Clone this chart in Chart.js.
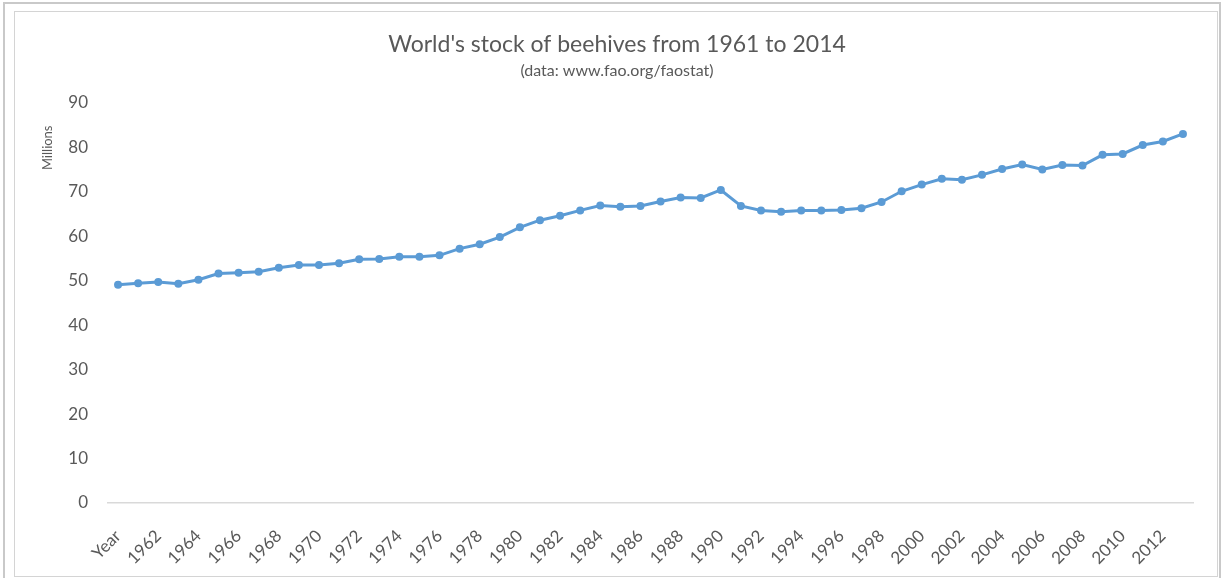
<!DOCTYPE html>
<html>
<head>
<meta charset="utf-8">
<script src="https://cdn.jsdelivr.net/npm/chart.js@4/dist/chart.umd.min.js"></script>
<style>
  html, body { margin: 0; padding: 0; background: #fff; }
  #wrap { position: relative; width: 1227px; height: 578px; overflow: hidden; }
  #outer { position: absolute; left: 3px; top: 2px; width: 1218px; height: 580px; border: 2px solid #c9c9c9; box-sizing: border-box; pointer-events: none; }
  #inner { position: absolute; left: 14px; top: 11px; width: 1204px; height: 566px; border: 1px solid #d4d4d4; box-sizing: border-box; pointer-events: none; }
  canvas { position: absolute; left: 0; top: 0; }
</style>
</head>
<body>
<div id="wrap">
  <canvas id="beeChart" width="1227" height="578"></canvas>
  <div id="outer"></div>
  <div id="inner"></div>
</div>
<script>
// categories as they appear on the axis (first one reads "Year")
const categories = [
  "Year", "1961", "1962", "1963", "1964", "1965", "1966", "1967", "1968", "1969",
  "1970", "1971", "1972", "1973", "1974", "1975", "1976", "1977", "1978", "1979",
  "1980", "1981", "1982", "1983", "1984", "1985", "1986", "1987", "1988", "1989",
  "1990", "1991", "1992", "1993", "1994", "1995", "1996", "1997", "1998", "1999",
  "2000", "2001", "2002", "2003", "2004", "2005", "2006", "2007", "2008", "2009",
  "2010", "2011", "2012", "2013"
];

// beehives, millions
const beehives = [
  49.1, 49.4, 49.7, 49.3, 50.2, 51.6, 51.8, 52.0, 52.9, 53.5,
  53.5, 53.9, 54.8, 54.9, 55.4, 55.4, 55.7, 57.2, 58.2, 59.8,
  62.0, 63.6, 64.6, 65.8, 66.9, 66.6, 66.8, 67.8, 68.7, 68.6,
  70.4, 66.8, 65.8, 65.5, 65.8, 65.8, 65.9, 66.3, 67.7, 70.1,
  71.6, 72.9, 72.7, 73.8, 75.1, 76.1, 75.0, 76.0, 75.9, 78.3,
  78.5, 80.5, 81.3, 83.0
];

const yTicks = [0, 10, 20, 30, 40, 50, 60, 70, 80, 90];

const textColor = "#595959";
const fontFamily = "Lato, 'Open Sans', sans-serif";

// "Millions" sits at the top of the value axis, like Excel's display unit label
const unitLabel = {
  id: "unitLabel",
  afterDraw(chart) {
    const ctx = chart.ctx;
    ctx.save();
    ctx.translate(48, chart.chartArea.top + 45);
    ctx.rotate(-Math.PI / 2);
    ctx.fillStyle = textColor;
    ctx.font = "13px " + fontFamily;
    ctx.textAlign = "center";
    ctx.textBaseline = "middle";
    ctx.fillText("Millions", 0, 0);
    ctx.restore();
  }
};

new Chart(document.getElementById("beeChart"), {
  type: "line",
  data: {
    labels: categories,
    datasets: [{
      label: "Beehives",
      data: beehives,
      borderColor: "#5B9BD5",
      backgroundColor: "#5B9BD5",
      borderWidth: 3,
      pointRadius: 4,
      pointBorderWidth: 0,
      tension: 0
    }]
  },
  options: {
    responsive: false,
    animation: false,
    layout: { padding: { left: 41, right: 34, top: 0, bottom: 0 } },
    plugins: {
      legend: { display: false },
      tooltip: { enabled: false },
      title: {
        display: true,
        text: "World's stock of beehives from 1961 to 2014",
        color: textColor,
        font: { family: fontFamily, size: 23, weight: "normal" },
        padding: { top: 31, bottom: 3 }
      },
      subtitle: {
        display: true,
        text: "(data: www.fao.org/faostat)",
        color: textColor,
        font: { family: fontFamily, size: 16, weight: "normal" },
        padding: { top: 0, bottom: 22 }
      }
    },
    scales: {
      x: {
        offset: true,
        grid: { display: false },
        border: { display: true, color: "#d9d9d9", width: 1.5 },
        afterFit: scale => { scale.height = 75; },
        ticks: {
          autoSkip: false,
          minRotation: 45,
          maxRotation: 45,
          padding: 15,
          color: textColor,
          font: { family: fontFamily, size: 17 },
          callback: function (value, index) {
            return index % 2 === 0 ? categories[index] : "";
          }
        }
      },
      y: {
        min: 0,
        max: 90,
        grid: { display: false },
        border: { display: false },
        afterFit: scale => { scale.width = 67; },
        afterBuildTicks: scale => { scale.ticks = yTicks.map(v => ({ value: v })); },
        ticks: {
          padding: 12,
          color: textColor,
          font: { family: fontFamily, size: 17 }
        }
      }
    }
  },
  plugins: [unitLabel]
});
</script>
</body>
</html>
